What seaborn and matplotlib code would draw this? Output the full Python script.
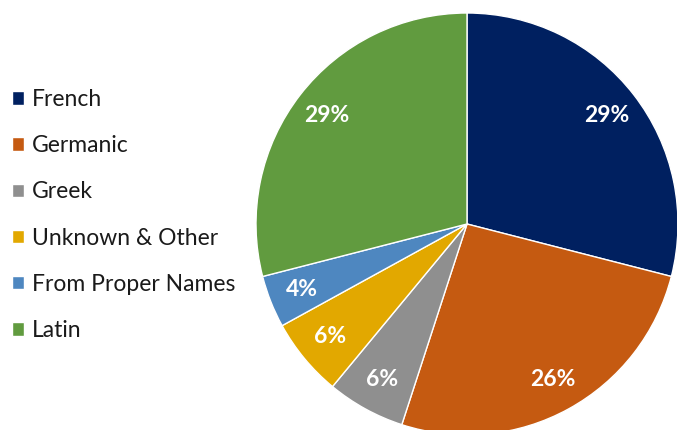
import matplotlib
matplotlib.use("Agg")
import matplotlib.pyplot as plt
import seaborn as sns

# word origin shares (%)
origins = ["French", "Germanic", "Greek", "Unknown & Other", "From Proper Names", "Latin"]
shares = [29, 26, 6, 6, 4, 29]
colors = ["#002060", "#C55A11", "#8F8F8F", "#E2A800", "#4E87C0", "#619B3F"]

sns.set_theme(style="white")
plt.rcParams["font.family"] = ["Lato", "DejaVu Sans"]

fig = plt.figure(figsize=(6.77, 4.30), dpi=100)
ax = fig.add_axes([256 / 677, -5 / 430, 422 / 677, 422 / 430])

wedges, texts, autotexts = ax.pie(
    shares,
    colors=sns.color_palette(colors),
    startangle=90,
    counterclock=False,
    autopct="%d%%",
    pctdistance=0.84,
    wedgeprops=dict(edgecolor="white", linewidth=1),
    textprops=dict(color="white", fontsize=16.5, fontweight="bold"),
)
ax.set_xlim(-1, 1)
ax.set_ylim(-1, 1)
ax.set_aspect("equal")
ax.axis("off")

fig.legend(
    wedges, origins,
    loc="center left", bbox_to_anchor=(12 / 677, 0.5),
    frameon=False, fontsize=16.5, borderpad=0, borderaxespad=0,
    handlelength=0.52, handleheight=0.52, handletextpad=0.35,
    labelspacing=1.1, labelcolor="#1a1a1a",
)

fig.savefig("out.png", dpi=100)
